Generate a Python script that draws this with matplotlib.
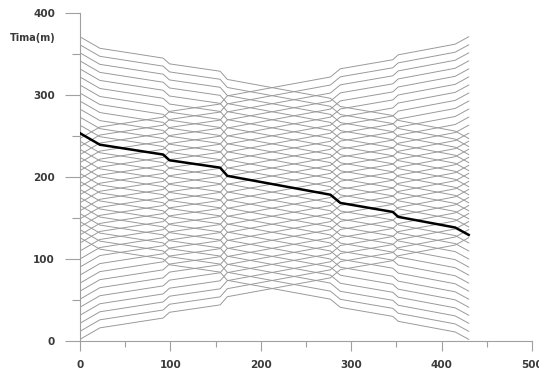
import numpy as np
import matplotlib.pyplot as plt

# posicoes das estacoes ao longo da linha e tempo de percurso acumulado
estacoes = [0, 22, 92, 99, 155, 163, 277, 288, 346, 352, 415, 430]
percurso = [0, 14, 26, 33, 42, 52, 75, 85, 96, 102, 115, 124]

# horarios de partida em x = 0 (sentido descendente e ascendente)
partida_desc = [371.0, 361.2, 351.4, 341.6, 331.8, 322.0, 312.2, 302.4, 292.6,
                282.8, 273.0, 263.2, 253.4, 243.6, 233.8, 224.0, 214.2, 204.4,
                194.6, 184.8, 175.0, 165.2, 155.4, 145.6, 135.8, 126.0]
partida_asc = [2.0, 11.8, 21.6, 31.4, 41.2, 51.0, 60.8, 70.6, 80.4, 90.2,
               100.0, 109.8, 119.6, 129.4, 139.2, 149.0, 158.8, 168.6, 178.4,
               188.2, 198.0, 207.8, 217.6, 227.4, 237.2, 247.0]

# trem destacado
destaque = 12

x = np.array(estacoes)
run = np.array(percurso)

fig = plt.figure(figsize=(5.39, 3.71), dpi=100)
ax = fig.add_axes([0.1484, 0.0809, 0.8386, 0.884])

cinza = '#9a9a9a'
for t0 in partida_asc:
    ax.plot(x, t0 + run, color=cinza, lw=0.7)
for i, t0 in enumerate(partida_desc):
    if i == destaque:
        continue
    ax.plot(x, t0 - run, color=cinza, lw=0.7)

ax.plot(x, partida_desc[destaque] - run, color='black', lw=1.8, zorder=5)

ax.set_xlim(0, 500)
ax.set_ylim(0, 400)
ax.set_xticks([0, 100, 200, 300, 400, 500])
ax.set_xticks([50, 150, 250, 350, 450], minor=True)
ax.set_yticks([0, 100, 200, 300, 400])
ax.set_yticks([50, 150, 250, 350], minor=True)

for s in ['top', 'right']:
    ax.spines[s].set_visible(False)
for s in ['left', 'bottom']:
    ax.spines[s].set_color('#a0a0a0')
    ax.spines[s].set_linewidth(0.8)

ax.tick_params(axis='y', which='major', length=11, width=0.8, color='#a0a0a0', pad=7)
ax.tick_params(axis='y', which='minor', length=6, width=0.8, color='#a0a0a0')
ax.tick_params(axis='x', which='major', length=7, width=0.8, color='#a0a0a0', pad=7)
ax.tick_params(axis='x', which='minor', length=4, width=0.8, color='#a0a0a0')

for lab in ax.get_xticklabels() + ax.get_yticklabels():
    lab.set_fontsize(7.5)
    lab.set_fontweight('bold')
    lab.set_color('#3a3a3a')

ax.text(-27, 370, 'Tima(m)', fontsize=7, fontweight='bold', color='#3a3a3a',
        ha='right', va='center')

fig.savefig('out.png', dpi=100)
